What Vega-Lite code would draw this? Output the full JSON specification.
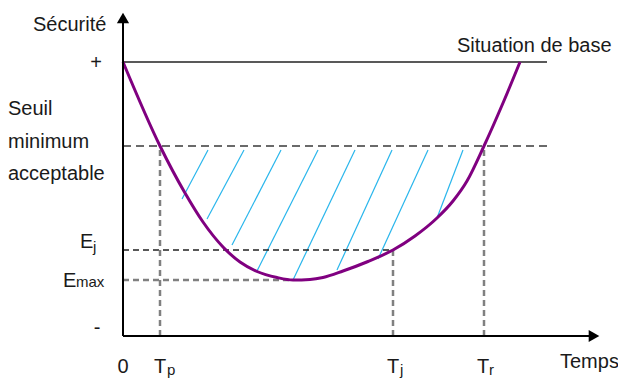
{
  "$schema": "https://vega.github.io/schema/vega-lite/v6.json",
  "width": 618,
  "height": 378,
  "padding": 0,
  "autosize": {"type": "none"},
  "background": "white",
  "config": {"view": {"stroke": null}, "text": {"font": "Liberation Sans", "color": "#1a1a1a"}},
  "datasets": {
    "curve": [
      {"t": 0, "s": 274}, {"t": 37, "s": 190}, {"t": 62, "s": 143}, {"t": 80, "s": 114},
      {"t": 100, "s": 89}, {"t": 117, "s": 74}, {"t": 134, "s": 64.5}, {"t": 154, "s": 58.5},
      {"t": 170, "s": 56}, {"t": 187, "s": 56.5}, {"t": 200, "s": 58.5}, {"t": 220, "s": 65},
      {"t": 245, "s": 74.5}, {"t": 270, "s": 86}, {"t": 292, "s": 100}, {"t": 314, "s": 118},
      {"t": 330, "s": 135}, {"t": 344, "s": 155}, {"t": 361, "s": 190}, {"t": 380, "s": 233},
      {"t": 397, "s": 274}
    ],
    "hatch": [
      {"id": 1, "t": 85, "s": 186}, {"id": 1, "t": 59, "s": 137},
      {"id": 2, "t": 121, "s": 186}, {"id": 2, "t": 84, "s": 117},
      {"id": 3, "t": 158, "s": 186}, {"id": 3, "t": 109, "s": 91},
      {"id": 4, "t": 195, "s": 186}, {"id": 4, "t": 134, "s": 65},
      {"id": 5, "t": 232, "s": 186}, {"id": 5, "t": 170, "s": 56},
      {"id": 6, "t": 269, "s": 186}, {"id": 6, "t": 214, "s": 66},
      {"id": 7, "t": 305, "s": 186}, {"id": 7, "t": 255, "s": 77},
      {"id": 8, "t": 340, "s": 186}, {"id": 8, "t": 314, "s": 118}
    ],
    "guides": [
      {"kind": "base", "t": 0, "s": 274, "t2": 424, "s2": 274},
      {"kind": "seuil", "t": 0, "s": 190, "t2": 424, "s2": 190},
      {"kind": "ej", "t": 0, "s": 86, "t2": 270, "s2": 86},
      {"kind": "emax", "t": 0, "s": 56, "t2": 170, "s2": 56},
      {"kind": "vert", "t": 37, "s": 0, "t2": 37, "s2": 190},
      {"kind": "vert", "t": 270, "s": 0, "t2": 270, "s2": 86},
      {"kind": "vert", "t": 361, "s": 0, "t2": 361, "s2": 190},
      {"kind": "axis", "t": 0, "s": 0, "t2": 0, "s2": 313},
      {"kind": "axis", "t": 0, "s": 0, "t2": 467, "s2": 0}
    ],
    "arrows": [
      {"dir": "up", "t": 0, "s": 318},
      {"dir": "right", "t": 471, "s": 0}
    ],
    "labels": [
      {"label": "Sécurité", "t": -90, "s": 305},
      {"label": "Seuil", "t": -115, "s": 221},
      {"label": "minimum", "t": -115, "s": 188},
      {"label": "acceptable", "t": -115, "s": 156},
      {"label": "Situation de base", "t": 334, "s": 284},
      {"label": "Temps", "t": 437, "s": -32},
      {"label": "T", "t": 31, "s": -37},
      {"label": "T", "t": 264, "s": -37},
      {"label": "T", "t": 354, "s": -37},
      {"label": "E", "t": -43, "s": 88},
      {"label": "E", "t": -60, "s": 49}
    ],
    "centered": [
      {"label": "+", "t": -27, "s": 267},
      {"label": "-", "t": -26, "s": 2},
      {"label": "0", "t": 0, "s": -37}
    ],
    "subs": [
      {"label": "p", "t": 44, "s": -39},
      {"label": "j", "t": 277, "s": -39},
      {"label": "r", "t": 366, "s": -39},
      {"label": "j", "t": -30, "s": 84},
      {"label": "max", "t": -47, "s": 49}
    ]
  },
  "encoding": {
    "x": {"field": "t", "type": "quantitative", "scale": {"domain": [-123, 495], "nice": false, "zero": false}, "axis": null},
    "y": {"field": "s", "type": "quantitative", "scale": {"domain": [-42, 336], "nice": false, "zero": false}, "axis": null}
  },
  "layer": [
    {
      "data": {"name": "hatch"},
      "mark": {"type": "line", "color": "#29b6ec", "strokeWidth": 1.2},
      "encoding": {"detail": {"field": "id", "type": "nominal"}, "order": {"field": "s", "type": "quantitative"}}
    },
    {
      "data": {"name": "guides"},
      "transform": [{"filter": "datum.kind === 'base'"}],
      "mark": {"type": "rule", "color": "#222222", "strokeWidth": 1.5},
      "encoding": {"x2": {"field": "t2"}, "y2": {"field": "s2"}}
    },
    {
      "data": {"name": "guides"},
      "transform": [{"filter": "datum.kind === 'seuil'"}],
      "mark": {"type": "rule", "color": "#3a3a3a", "strokeWidth": 1.5, "strokeDash": [8, 5]},
      "encoding": {"x2": {"field": "t2"}, "y2": {"field": "s2"}}
    },
    {
      "data": {"name": "guides"},
      "transform": [{"filter": "datum.kind === 'ej'"}],
      "mark": {"type": "rule", "color": "#222222", "strokeWidth": 1.5, "strokeDash": [6, 4]},
      "encoding": {"x2": {"field": "t2"}, "y2": {"field": "s2"}}
    },
    {
      "data": {"name": "guides"},
      "transform": [{"filter": "datum.kind === 'emax' || datum.kind === 'vert'"}],
      "mark": {"type": "rule", "color": "#808080", "strokeWidth": 2.5, "strokeDash": [6, 4]},
      "encoding": {"x2": {"field": "t2"}, "y2": {"field": "s2"}}
    },
    {
      "data": {"name": "curve"},
      "mark": {"type": "line", "color": "#800080", "strokeWidth": 3, "interpolate": "monotone"},
      "encoding": {}
    },
    {
      "data": {"name": "guides"},
      "transform": [{"filter": "datum.kind === 'axis'"}],
      "mark": {"type": "rule", "color": "#000000", "strokeWidth": 2},
      "encoding": {"x2": {"field": "t2"}, "y2": {"field": "s2"}}
    },
    {
      "data": {"name": "arrows"},
      "mark": {"type": "point", "filled": true, "color": "#000000", "size": 150, "opacity": 1},
      "encoding": {
        "shape": {"field": "dir", "type": "nominal", "scale": {"domain": ["up", "right"], "range": ["triangle-up", "triangle-right"]}, "legend": null}
      }
    },
    {
      "data": {"name": "labels"},
      "mark": {"type": "text", "fontSize": 20, "align": "left", "baseline": "alphabetic"},
      "encoding": {"text": {"field": "label"}}
    },
    {
      "data": {"name": "centered"},
      "mark": {"type": "text", "fontSize": 20, "align": "center", "baseline": "alphabetic"},
      "encoding": {"text": {"field": "label"}}
    },
    {
      "data": {"name": "subs"},
      "mark": {"type": "text", "fontSize": 15, "align": "left", "baseline": "alphabetic"},
      "encoding": {"text": {"field": "label"}}
    }
  ]
}
